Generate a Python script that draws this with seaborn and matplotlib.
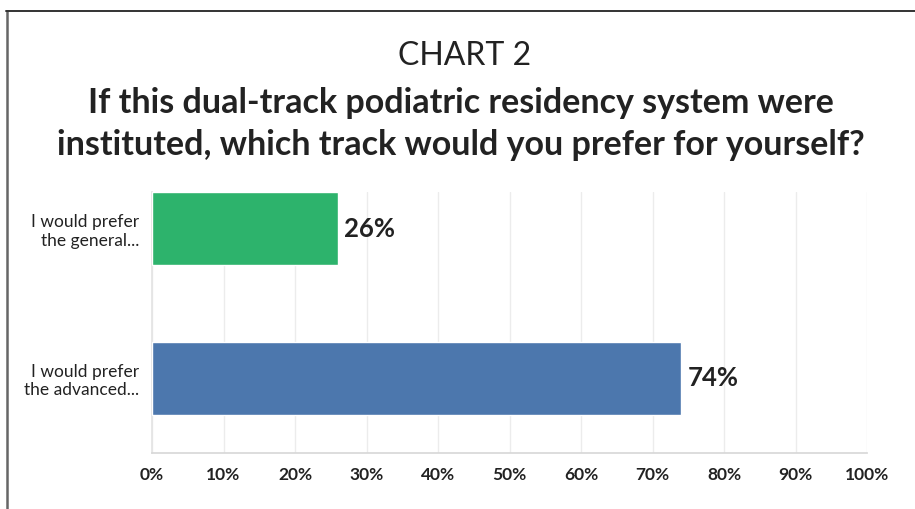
import pandas as pd
import numpy as np
import matplotlib.pyplot as plt
import seaborn as sns

# Chart data
answers = ["I would prefer\nthe general...", "I would prefer\nthe advanced..."]
shares = [26, 74]
bar_colors = ["#2db36c", "#4c77ad"]
x_ticks = list(range(0, 101, 10))
x_tick_labels = [f"{t}%" for t in x_ticks]

sns.set_theme(style="white")
plt.rcParams["font.family"] = ["Lato", "DejaVu Sans"]

df = pd.DataFrame({"answer": answers, "share": shares})

W, H = 915, 509
fig = plt.figure(figsize=(W / 100, H / 100), dpi=100)
ax = fig.add_axes([152 / W, 1 - 453 / H, (867 - 152) / W, (453 - 192) / H])

sns.barplot(data=df, y="answer", x="share", hue="answer", palette=bar_colors,
            orient="h", width=0.49, legend=False, ax=ax, saturation=1, zorder=3)

ax.set_xlim(0, 100)
ax.set_ylim(1.5, -0.245)
ax.set_xticks(x_ticks)
ax.set_xticklabels(x_tick_labels, fontsize=12.5, fontweight="bold", color="#222222")
ax.tick_params(axis="x", length=0, pad=10)
ax.tick_params(axis="y", length=0, pad=9)
for lbl in ax.get_yticklabels():
    lbl.set_fontsize(12.5)
    lbl.set_color("#222222")
    lbl.set_horizontalalignment("right")
    lbl.set_linespacing(1.2)
ax.set_xlabel("")
ax.set_ylabel("")
ax.grid(axis="x", color="#ececec", linewidth=1, zorder=0)

for s in ["top", "right"]:
    ax.spines[s].set_visible(False)
ax.spines["bottom"].set_color("#d8d8d8")
ax.spines["left"].set_color("#e4e4e4")

# value labels
for i, v in enumerate(shares):
    ax.text(v + 0.9, i, f"{v}%", va="center", ha="left", fontsize=18.5,
            fontweight="bold", color="#222222")

# titles
fig.text(465 / W, 1 - 65 / H, "CHART 2", ha="center", va="baseline", fontsize=23,
         color="#222222")
fig.text(461 / W, 1 - 113 / H, "If this dual-track podiatric residency system were",
         ha="center", va="baseline", fontsize=24.5, fontweight="bold",
         color="#222222")
fig.text(461 / W, 1 - 155 / H, "instituted, which track would you prefer for yourself?",
         ha="center", va="baseline", fontsize=24.5, fontweight="bold",
         color="#222222")

# frame around the figure
fig.add_artist(plt.Line2D([7 / W, 7 / W], [0, 1 - 11 / H], color="#666666", lw=1.8))
fig.add_artist(plt.Line2D([6 / W, 1], [1 - 11 / H, 1 - 11 / H], color="#333333", lw=1.4))

fig.savefig("out.png", dpi=100)
